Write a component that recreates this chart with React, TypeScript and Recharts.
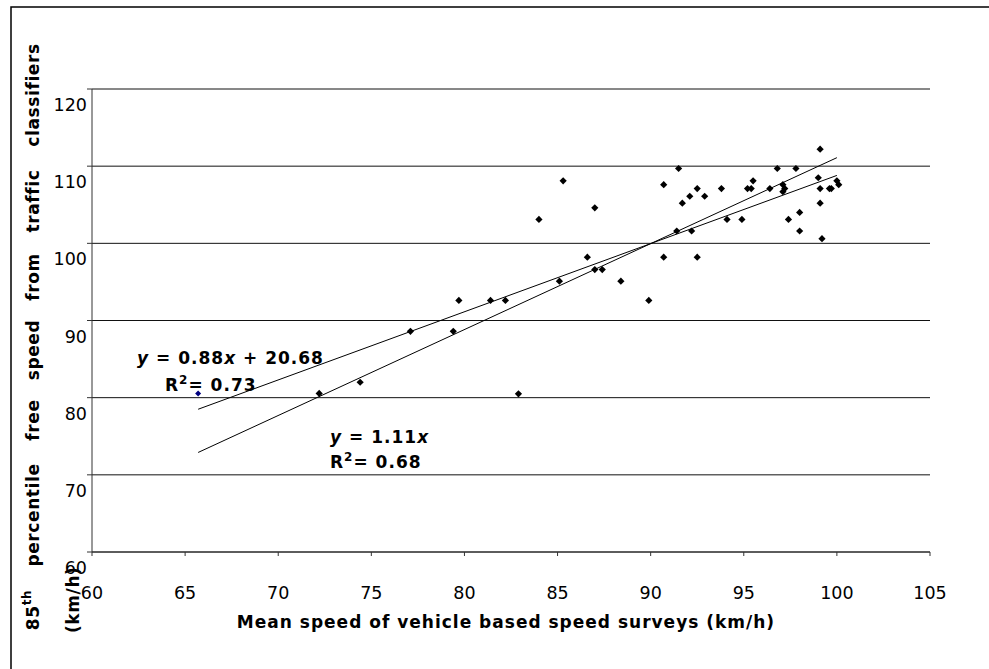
import React from 'react';
import { ScatterChart, Scatter, XAxis, YAxis, CartesianGrid, ReferenceLine } from 'recharts';

// survey mean speed (x) vs 85th percentile classifier speed (y), km/h
const surveyPoints = [
  { x: 99.1, y: 112.2 }, { x: 91.5, y: 109.7 }, { x: 96.8, y: 109.7 }, { x: 97.8, y: 109.7 },
  { x: 85.3, y: 108.1 }, { x: 95.5, y: 108.1 }, { x: 90.7, y: 107.6 }, { x: 99.0, y: 108.5 },
  { x: 100.0, y: 108.1 }, { x: 100.1, y: 107.6 }, { x: 99.6, y: 107.1 }, { x: 99.7, y: 107.1 },
  { x: 99.1, y: 107.1 }, { x: 97.1, y: 107.6 }, { x: 97.2, y: 107.1 }, { x: 97.1, y: 106.7 },
  { x: 96.4, y: 107.1 }, { x: 95.2, y: 107.1 }, { x: 95.4, y: 107.1 }, { x: 93.8, y: 107.1 },
  { x: 92.5, y: 107.1 }, { x: 92.1, y: 106.1 }, { x: 92.9, y: 106.1 }, { x: 91.7, y: 105.2 },
  { x: 99.1, y: 105.2 }, { x: 87.0, y: 104.6 }, { x: 84.0, y: 103.1 }, { x: 94.1, y: 103.1 },
  { x: 94.9, y: 103.1 }, { x: 97.4, y: 103.1 }, { x: 98.0, y: 104.0 }, { x: 98.0, y: 101.6 },
  { x: 99.2, y: 100.6 }, { x: 91.4, y: 101.6 }, { x: 92.2, y: 101.6 }, { x: 90.7, y: 98.2 },
  { x: 92.5, y: 98.2 }, { x: 86.6, y: 98.2 }, { x: 87.0, y: 96.6 }, { x: 87.4, y: 96.6 },
  { x: 85.1, y: 95.1 }, { x: 88.4, y: 95.1 }, { x: 81.4, y: 92.6 }, { x: 82.2, y: 92.6 },
  { x: 89.9, y: 92.6 }, { x: 79.7, y: 92.6 }, { x: 77.1, y: 88.6 }, { x: 79.4, y: 88.6 },
  { x: 82.9, y: 80.5 }, { x: 72.2, y: 80.55 }, { x: 74.4, y: 82.0 },
];

const highlightPoints = [{ x: 65.7, y: 80.55 }];

// trend line ends
const linearTrend = [{ x: 65.7, y: 78.5 }, { x: 100, y: 108.8 }];
const throughOriginTrend = [{ x: 65.7, y: 72.9 }, { x: 100, y: 111.1 }];

const xTicks = [60, 65, 70, 75, 80, 85, 90, 95, 100, 105];
const yTicks = [60, 70, 80, 90, 100, 110, 120];

const yTitleWords = [
  { word: 'classifiers', at: 95 },
  { word: 'traffic', at: 201 },
  { word: 'from', at: 277 },
  { word: 'speed', at: 350 },
  { word: 'free', at: 420 },
  { word: 'percentile', at: 515 },
];

const FONT = '"DejaVu Sans", Verdana, sans-serif';

const Diamond = (props: any) => {
  const { cx, cy, fill, r = 3.6 } = props;
  if (cx == null || cy == null) return null;
  return <polygon points={`${cx},${cy - r} ${cx + r},${cy} ${cx},${cy + r} ${cx - r},${cy}`} fill={fill} />;
};

const YTick = (props: any) => (
  <text x={props.x} y={props.y + 16} textAnchor="end" dominantBaseline="central"
    fontFamily={FONT} fontSize={17.5} fill="#000">
    {props.payload.value}
  </text>
);

const XTick = (props: any) => (
  <text x={props.x} y={props.y + 37} textAnchor="middle" dominantBaseline="central"
    fontFamily={FONT} fontSize={17.5} fill="#000">
    {props.payload.value}
  </text>
);

export default function App() {
  return (
    <div style={{ position: 'absolute', left: 0, top: 0, width: 989, height: 669, background: '#fff', overflow: 'hidden' }}>
      <ScatterChart width={989} height={669} margin={{ top: 89, right: 59, bottom: 77, left: 32 }}>
        <CartesianGrid vertical={false} stroke="#111" strokeWidth={1} />
        <XAxis type="number" dataKey="x" domain={[60, 105]} ticks={xTicks} height={40}
          axisLine={{ stroke: '#333' }} tickLine={{ stroke: '#333' }} tickSize={4} tickMargin={0}
          tick={<XTick />} allowDataOverflow />
        <YAxis type="number" dataKey="y" domain={[60, 120]} ticks={yTicks} width={60}
          axisLine={{ stroke: '#333' }} tickLine={{ stroke: '#333' }} tickSize={5} tickMargin={0}
          tick={<YTick />} allowDataOverflow />
        <ReferenceLine segment={linearTrend} stroke="#000" strokeWidth={1} ifOverflow="visible" />
        <ReferenceLine segment={throughOriginTrend} stroke="#000" strokeWidth={1} ifOverflow="visible" />
        <Scatter data={surveyPoints} fill="#000" shape={<Diamond />} isAnimationActive={false} />
        <Scatter data={highlightPoints} fill="#000080" shape={<Diamond r={3} />} isAnimationActive={false} />
      </ScatterChart>
      <svg width={989} height={669} style={{ position: 'absolute', left: 0, top: 0, pointerEvents: 'none' }}>
        <path d="M11,700 L11,7 L1000,7" fill="none" stroke="#000" strokeWidth={1.5} />
        <g fontFamily={FONT} fontWeight="bold" fontSize={17} fill="#000">
          <g letterSpacing={0.6}>
            {yTitleWords.map((w) => (
              <text key={w.word} x={33} y={w.at} transform={`rotate(-90 33 ${w.at})`}
                textAnchor="middle" dominantBaseline="central">{w.word}</text>
            ))}
            <text x={33} y={610} transform="rotate(-90 33 610)" textAnchor="middle" dominantBaseline="central">
              85<tspan fontSize={12} dy={-6}>th</tspan>
            </text>
            <text x={73} y={633} transform="rotate(-90 73 633)" textAnchor="start" dominantBaseline="central">(km/h)</text>
          </g>
          <g letterSpacing={1}>
            <text x={506} y={622} textAnchor="middle" dominantBaseline="central">
              Mean speed of vehicle based speed surveys (km/h)
            </text>
            <text x={137} y={364}>
              <tspan fontStyle="italic">y</tspan> = 0.88<tspan fontStyle="italic">x</tspan> + 20.68
            </text>
            <text x={165} y={391}>
              R<tspan fontSize={12} dy={-7}>2</tspan><tspan dy={7}>= 0.73</tspan>
            </text>
            <text x={330} y={443}>
              <tspan fontStyle="italic">y</tspan> = 1.11<tspan fontStyle="italic">x</tspan>
            </text>
            <text x={330} y={468}>
              R<tspan fontSize={12} dy={-7}>2</tspan><tspan dy={7}>= 0.68</tspan>
            </text>
          </g>
        </g>
      </svg>
    </div>
  );
}
